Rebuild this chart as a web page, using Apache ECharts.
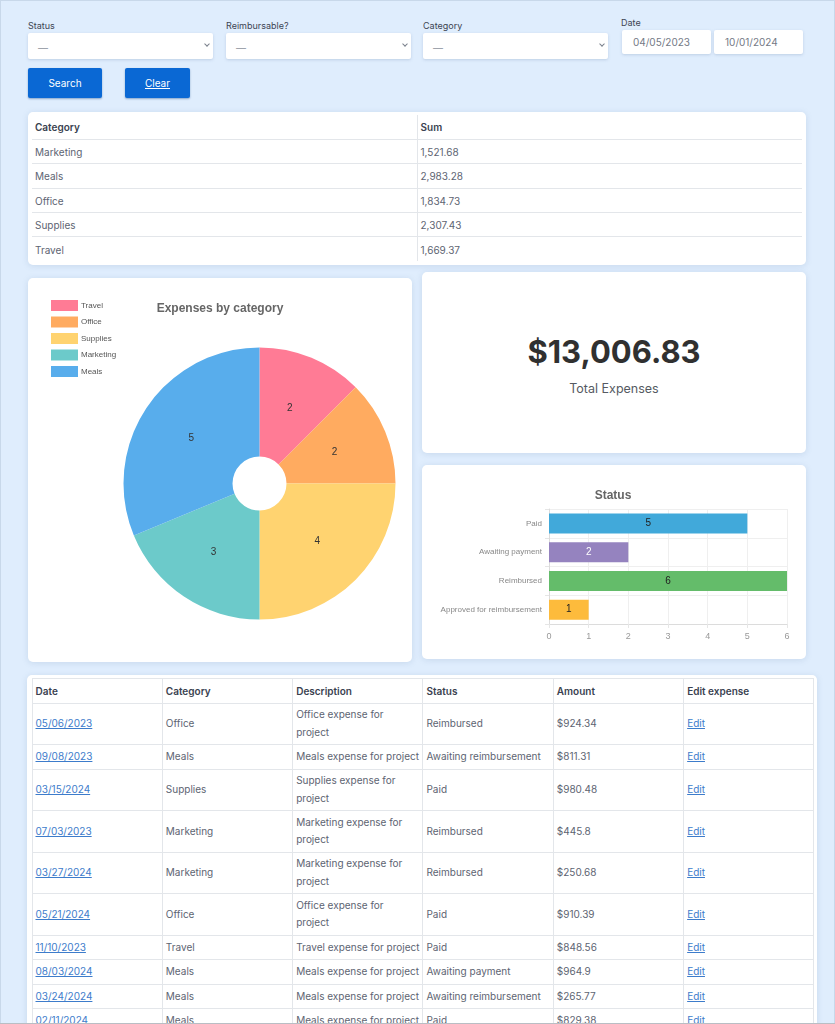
<!DOCTYPE html>
<html>
<head>
<meta charset="utf-8">
<title>Expenses</title>
<script src="https://cdn.jsdelivr.net/npm/echarts@6/dist/echarts.min.js"></script>
<style>
  html, body { margin: 0; padding: 0; }
  body {
    width: 835px; height: 1024px; position: relative; overflow: hidden;
    background: #dfedfd; font-family: Inter, sans-serif; font-size: 10px; color: #5d6472;
  }
  .frame { position: absolute; left: 0; top: 0; width: 833px; height: 1022px; border: 1px solid #c8d8ea; }
  .abs { position: absolute; box-sizing: border-box; }
  .card { position: absolute; background: #fff; border-radius: 5px; box-shadow: 0 1px 6px rgba(90, 120, 160, .18); }
  .lbl { position: absolute; font-size: 9px; color: #3c4452; }
  .field { background: #fff; box-shadow: 0 1px 3px rgba(90, 120, 160, .25); border-radius: 2px; }
  .select-dash { position: absolute; left: 10px; top: 9px; color: #8a909b; }
  .chev {
    position: absolute; right: 4px; top: 9px; width: 3px; height: 3px;
    border-right: 1px solid #7a808c; border-bottom: 1px solid #7a808c; transform: rotate(45deg);
  }
  .date-in { font-size: 10px; color: #747a86; padding-left: 11px; line-height: 24px; }
  .btn {
    background: #0a68d4; color: #fff; text-align: center; font-size: 10px; border-radius: 2px;
    box-shadow: 0 1px 2px rgba(0, 60, 130, .4);
  }
  table { position: absolute; border-collapse: collapse; table-layout: fixed; font-size: 10px; }
  th { text-align: left; font-weight: 600; color: #3a4250; }
  th, td { padding: 0 0 0 3px; box-sizing: border-box; border: 1px solid #e3e6ea; overflow: hidden; }
  #summary th, #summary td { padding-top: 1px; }
  #summary th:first-child, #summary td:first-child { border-left: 0; }
  #summary th:last-child, #summary td:last-child { border-right: 0; }
  #summary th, #summary tr:first-child th { border-top: 0; }
  #summary tr:last-child td { border-bottom: 0; }
  #expenses td { line-height: 17.5px; white-space: pre; }
  a { color: #3d7ccb; text-decoration: underline; }
  .kpi { position: absolute; left: 0; width: 384px; text-align: center; }
  .bottom-line { position: absolute; left: 0; top: 1023px; width: 835px; height: 1px; background: #b9bec4; }
</style>
</head>
<body>
<div class="frame"></div>

<div class="lbl" style="left:28px;top:20px">Status</div>
<div class="lbl" style="left:226px;top:20px">Reimbursable?</div>
<div class="lbl" style="left:423px;top:20px">Category</div>
<div class="lbl" style="left:621px;top:17px">Date</div>

<div class="abs field" style="left:28px;top:33px;width:185px;height:26px"><span class="select-dash">—</span><i class="chev"></i></div>
<div class="abs field" style="left:226px;top:33px;width:185px;height:26px"><span class="select-dash">—</span><i class="chev"></i></div>
<div class="abs field" style="left:423px;top:33px;width:185px;height:26px"><span class="select-dash">—</span><i class="chev"></i></div>
<div class="abs field date-in" style="left:622px;top:30px;width:89px;height:24px">04/05/2023</div>
<div class="abs field date-in" style="left:714px;top:30px;width:89px;height:24px">10/01/2024</div>

<div class="abs btn" style="left:28px;top:68px;width:74px;height:30px;line-height:31px">Search</div>
<div class="abs btn" style="left:125px;top:68px;width:65px;height:30px;line-height:31px;text-decoration:underline">Clear</div>

<div class="card" style="left:28px;top:112px;width:778px;height:153px"></div>
<table id="summary" style="left:32px;top:115px;width:770px"></table>

<div class="card" style="left:28px;top:278px;width:384px;height:384px"><div id="pie" style="width:384px;height:384px"></div></div>

<div class="card" style="left:422px;top:272px;width:384px;height:181px">
  <div class="kpi" style="top:61px;font-size:31px;font-weight:700;color:#303030;line-height:38px">$13,006.83</div>
  <div class="kpi" style="top:109px;font-size:12.5px;color:#555a62;line-height:16px">Total Expenses</div>
</div>

<div class="card" style="left:422px;top:465px;width:384px;height:194px"><div id="bar" style="width:384px;height:194px"></div></div>

<div class="card" style="left:27px;top:675px;width:790px;height:360px"></div>
<table id="expenses" style="left:31.5px;top:678px;width:782px"></table>
<div class="bottom-line"></div>

<script>
// summary table
const sumCategories = ['Marketing', 'Meals', 'Office', 'Supplies', 'Travel'];
const sumValues = ['1,521.68', '2,983.28', '1,834.73', '2,307.43', '1,669.37'];

// pie
const pieNames = ['Travel', 'Office', 'Supplies', 'Marketing', 'Meals'];
const pieValues = [2, 2, 4, 3, 5];
const pieColors = ['#ff7b95', '#ffab60', '#ffd370', '#6ccaca', '#58adec'];

// status bars
const barNames = ['Paid', 'Awaiting payment', 'Reimbursed', 'Approved for reimbursement'];
const barValues = [5, 2, 6, 1];
const barColors = ['#41a9da', '#9583bf', '#64bc6a', '#fdbb3c'];
const barLabelColors = ['#222', '#fff', '#222', '#222'];

// expenses table
const expHeaders = ['Date', 'Category', 'Description', 'Status', 'Amount', 'Edit expense'];
const expDates = ['05/06/2023', '09/08/2023', '03/15/2024', '07/03/2023', '03/27/2024', '05/21/2024', '11/10/2023', '08/03/2024', '03/24/2024', '02/11/2024'];
const expCategories = ['Office', 'Meals', 'Supplies', 'Marketing', 'Marketing', 'Office', 'Travel', 'Meals', 'Meals', 'Meals'];
const expDescriptions = [
  'Office expense for\nproject', 'Meals expense for project', 'Supplies expense for\nproject',
  'Marketing expense for\nproject', 'Marketing expense for\nproject', 'Office expense for\nproject',
  'Travel expense for project', 'Meals expense for project', 'Meals expense for project', 'Meals expense for project'
];
const expStatuses = ['Reimbursed', 'Awaiting reimbursement', 'Paid', 'Reimbursed', 'Reimbursed', 'Paid', 'Paid', 'Awaiting payment', 'Awaiting reimbursement', 'Paid'];
const expAmounts = ['$924.34', '$811.31', '$980.48', '$445.8', '$250.68', '$910.39', '$848.56', '$964.9', '$265.77', '$829.38'];

const sumRows = sumCategories.map((c, i) => `<tr style="height:24.4px"><td>${c}</td><td>${sumValues[i]}</td></tr>`).join('');
document.getElementById('summary').innerHTML =
  '<colgroup><col style="width:385px"><col style="width:385px"></colgroup>' +
  '<tr style="height:24.4px"><th>Category</th><th>Sum</th></tr>' + sumRows;

const expRowHeights = [41.4, 24.6, 41.4, 41.6, 41.6, 41.4, 24.6, 24.4, 24.8, 24.6];
const expRows = expDates.map((d, i) => `<tr style="height:${expRowHeights[i]}px">
  <td><a>${d}</a></td><td>${expCategories[i]}</td><td>${expDescriptions[i]}</td>
  <td>${expStatuses[i]}</td><td>${expAmounts[i]}</td><td><a>Edit</a></td></tr>`).join('');
document.getElementById('expenses').innerHTML =
  '<colgroup>' + expHeaders.map(() => '<col style="width:130.33px">').join('') + '</colgroup>' +
  '<tr style="height:24.6px">' + expHeaders.map(h => `<th>${h}</th>`).join('') + '</tr>' + expRows;

const chartFont = '"Liberation Sans", Arial, sans-serif';

const pieChart = echarts.init(document.getElementById('pie'));
pieChart.setOption({
  animation: false,
  color: pieColors,
  title: {
    text: 'Expenses by category',
    left: 187, top: 20,
    textAlign: 'center',
    textStyle: { fontFamily: chartFont, fontSize: 12, fontWeight: 'bold', color: '#666' }
  },
  legend: {
    orient: 'vertical',
    left: 23, top: 22,
    padding: 0,
    itemWidth: 27, itemHeight: 11, itemGap: 5.5,
    icon: 'rect',
    data: pieNames,
    textStyle: { fontFamily: chartFont, fontSize: 8, color: '#555', padding: [0, 0, 0, -2] }
  },
  series: [{
    type: 'pie',
    center: [231.5, 205.5],
    radius: [27, 136],
    startAngle: 90,
    clockwise: true,
    label: { position: 'inside', formatter: '{c}', fontFamily: chartFont, fontSize: 10, color: '#333' },
    labelLine: { show: false },
    data: pieNames.map((n, i) => ({
      name: n,
      value: pieValues[i],
      // nudges the centred labels onto where the reference has them
      label: { offset: [[-2, 3], [-3, 1], [-2, -2], [1, -2], [2, 2]][i] }
    }))
  }]
});

const barChart = echarts.init(document.getElementById('bar'));
barChart.setOption({
  animation: false,
  title: {
    text: 'Status',
    left: 186, top: 20,
    textAlign: 'center',
    textStyle: { fontFamily: chartFont, fontSize: 12, fontWeight: 'bold', color: '#666' }
  },
  grid: { left: 127, top: 44, width: 238, height: 115, containLabel: false },
  xAxis: {
    type: 'value', min: 0, max: 6, interval: 1,
    axisLine: { show: true, lineStyle: { color: '#dcdcdc' } },
    axisTick: { show: true, length: 4, lineStyle: { color: '#e6e6e6' } },
    axisLabel: { fontFamily: chartFont, fontSize: 9, color: '#999', margin: 8 },
    splitLine: { show: true, lineStyle: { color: '#efefef' } }
  },
  yAxis: {
    type: 'category', inverse: true, data: barNames,
    axisLine: { show: true, lineStyle: { color: '#dcdcdc' } },
    axisTick: { show: true, length: 4, lineStyle: { color: '#e6e6e6' } },
    axisLabel: { fontFamily: chartFont, fontSize: 8, color: '#888', margin: 7 },
    splitLine: { show: true, lineStyle: { color: '#efefef' } }
  },
  series: [{
    type: 'bar',
    barWidth: 20,
    label: { show: true, position: 'inside', fontFamily: chartFont, fontSize: 10 },
    data: barValues.map((v, i) => ({
      value: v,
      itemStyle: { color: barColors[i] },
      label: { color: barLabelColors[i] }
    }))
  }]
});
</script>
</body>
</html>
